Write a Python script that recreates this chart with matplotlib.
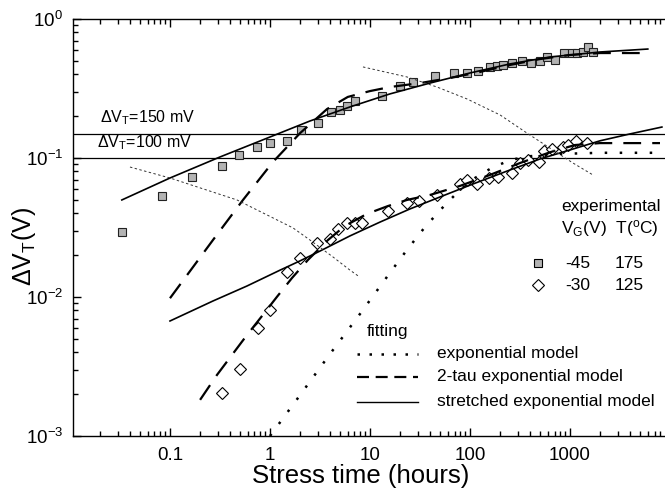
import numpy as np
import matplotlib
matplotlib.use("Agg")
import matplotlib.pyplot as plt
from matplotlib.ticker import FixedLocator, FixedFormatter, LogLocator, NullFormatter
from matplotlib.lines import Line2D

plt.rcParams['font.family'] = ['Liberation Sans', 'DejaVu Sans']
plt.rcParams['mathtext.fontset'] = 'custom'
plt.rcParams['mathtext.rm'] = 'Liberation Sans'
plt.rcParams['mathtext.it'] = 'Liberation Sans:italic'
plt.rcParams['mathtext.bf'] = 'Liberation Sans:bold'
plt.rcParams['mathtext.default'] = 'regular'

# ---------------- measured data ----------------
# VG = -45 V, T = 175 C
t_sq = [0.033, 0.083, 0.166, 0.331, 0.49, 0.74, 1.0, 1.48, 2.04, 3.02, 4.07, 5.0,
        5.9, 7.1, 13.2, 20, 26.9, 44.7, 69, 93, 120, 158, 186, 214, 263, 331,
        407, 501, 589, 708, 871, 1047, 1175, 1349, 1514, 1698]
dv_sq = [0.0294, 0.0533, 0.073, 0.0876, 0.105, 0.12, 0.128, 0.133, 0.159, 0.18, 0.214, 0.222,
         0.237, 0.257, 0.279, 0.33, 0.352, 0.389, 0.409, 0.409, 0.423, 0.452, 0.459, 0.467,
         0.482, 0.499, 0.482, 0.499, 0.533, 0.507, 0.569, 0.569, 0.569, 0.579, 0.629, 0.579]

# VG = -30 V, T = 125 C
t_di = [0.33, 0.50, 0.76, 1.0, 1.48, 2.0, 2.95, 4.0, 4.8, 5.9, 7.1, 8.3, 15.1, 23.4,
        30.9, 46.8, 79, 93, 117, 155, 191, 263, 316, 380, 490, 550, 661, 851, 955,
        1148, 1479]
dv_di = [0.00204, 0.00303, 0.00598, 0.00806, 0.0151, 0.0191, 0.0245, 0.0261, 0.0309,
         0.034, 0.034, 0.034, 0.0416, 0.0475, 0.049, 0.0542, 0.065, 0.0695, 0.065,
         0.0718, 0.073, 0.078, 0.092, 0.0968, 0.0936, 0.112, 0.116, 0.12, 0.124,
         0.133, 0.128]

# ---------------- fitted curves ----------------
# stretched exponential, -45 V
t_se_sq = [0.033, 0.1, 0.316, 1, 2.51, 6.31, 15.8, 39.8, 100, 251, 631, 2000, 6000]
dv_se_sq = [0.0499, 0.0718, 0.1017, 0.1416, 0.1846, 0.233, 0.289, 0.346, 0.409, 0.475,
            0.533, 0.579, 0.608]
# 2-tau exponential, -45 V
t_2t_sq = [0.1, 0.269, 0.537, 1.07, 2.0, 3.72, 6.0, 10, 15.8, 31.6, 63, 126, 251, 501,
           1000, 2000, 5600]
dv_2t_sq = [0.0098, 0.0257, 0.0499, 0.0936, 0.151, 0.225, 0.275, 0.303, 0.324, 0.346,
            0.376, 0.416, 0.467, 0.515, 0.551, 0.569, 0.569]
# stretched exponential, -30 V
t_se_di = [0.1, 0.269, 0.589, 1.26, 2.0, 3.16, 6.3, 12.6, 25.1, 50, 107, 251, 501, 1070,
           2000, 3980, 8300]
dv_se_di = [0.00672, 0.00936, 0.012, 0.0156, 0.0182, 0.0214, 0.0275, 0.0346, 0.043,
            0.0524, 0.065, 0.082, 0.0984, 0.116, 0.133, 0.149, 0.167]
# 2-tau exponential, -30 V
t_2t_di = [0.2, 0.295, 0.417, 0.589, 0.832, 1.17, 1.66, 2.4, 3.8, 5.6, 9.3, 15.1, 23.4,
           39.8, 79, 158, 316, 631, 1122, 2000, 7943]
dv_2t_di = [0.00182, 0.00275, 0.00383, 0.00533, 0.0073, 0.01, 0.0137, 0.0185, 0.0257,
            0.0324, 0.0396, 0.0451, 0.0499, 0.0542, 0.0629, 0.0755, 0.092, 0.110, 0.124,
            0.128, 0.128]
# single exponential, -30 V
t_ex_di = [1, 2, 3.98, 7.94, 15.8, 23.4, 35.5, 56.2, 79.4, 112, 158, 251, 398, 794,
           2000, 7943]
dv_ex_di = [0.001, 0.00197, 0.00389, 0.00755, 0.0149, 0.0218, 0.0319, 0.0459, 0.0589,
            0.0718, 0.0833, 0.0968, 0.103, 0.107, 0.109, 0.109]

# thin guide curves
t_g1 = [0.0398, 0.1, 0.468, 1.70, 2.51, 4.27, 6.31, 7.59]
dv_g1 = [0.0861, 0.0718, 0.0499, 0.0314, 0.0257, 0.0194, 0.0156, 0.0142]
t_g2 = [8.51, 23.4, 46.8, 93.3, 200, 372, 676, 1072, 1698]
dv_g2 = [0.452, 0.383, 0.324, 0.266, 0.204, 0.151, 0.114, 0.092, 0.0755]

# threshold levels
thresholds = [0.15, 0.10]
threshold_labels = [r'ΔV$_\mathregular{T}$=150 mV', r'ΔV$_\mathregular{T}$=100 mV']

x_ticks = [0.1, 1, 10, 100, 1000]
x_tick_labels = ['0.1', '1', '10', '100', '1000']
y_ticks = [1e-3, 1e-2, 1e-1, 1e0]
y_tick_labels = [r'10$^{\mathregular{-3}}$', r'10$^{\mathregular{-2}}$',
                 r'10$^{\mathregular{-1}}$', r'10$^{\mathregular{0}}$']

# ---------------- figure ----------------
W, H = 665, 494
fig = plt.figure(figsize=(W / 100, H / 100), dpi=100)


def fx(px):
    return px / W


def fy(py):
    return 1 - py / H


ax = fig.add_axes([fx(73), fy(436), fx(665) - fx(73), fy(19) - fy(436)])
ax.set_xscale('log')
ax.set_yscale('log')
ax.set_xlim(0.01072, 8913)
ax.set_ylim(1e-3, 1)

SQ_FACE = '#b3b3b3'
dot_style = (0, (1, 5))
dash_style = (0, (8, 5))
guide_style = (0, (2.5, 2.5))

# markers
ax.plot(t_sq, dv_sq, ls='none', marker='s', ms=6.2, mfc=SQ_FACE, mec='#222222',
        mew=0.8, zorder=2)
ax.plot(t_di, dv_di, ls='none', marker='D', ms=5.8, mfc='white', mec='black',
        mew=0.8, zorder=2)

# fits
ax.plot(t_se_sq, dv_se_sq, color='black', lw=1.2, zorder=3)
ax.plot(t_2t_sq, dv_2t_sq, color='black', lw=1.6, ls=dash_style, zorder=3)
ax.plot(t_se_di, dv_se_di, color='black', lw=1.2, zorder=3)
ax.plot(t_2t_di, dv_2t_di, color='black', lw=1.6, ls=dash_style, zorder=3)
ax.plot(t_ex_di, dv_ex_di, color='black', lw=1.8, ls=dot_style, zorder=3)

# guides
ax.plot(t_g1, dv_g1, color='#333333', lw=0.7, ls=guide_style, zorder=3)
ax.plot(t_g2, dv_g2, color='#333333', lw=0.7, ls=guide_style, zorder=3)

for lvl in thresholds:
    ax.axhline(lvl, color='black', lw=0.9, zorder=1)

ax.text(0.020, 0.182, threshold_labels[0], fontsize=11.5, ha='left', va='baseline')
ax.text(0.0186, 0.120, threshold_labels[1], fontsize=11.5, ha='left', va='baseline')

# axes styling
ax.spines['right'].set_visible(False)
for s in ('left', 'bottom', 'top'):
    ax.spines[s].set_linewidth(1.0)

ax.xaxis.set_major_locator(FixedLocator(x_ticks))
ax.xaxis.set_major_formatter(FixedFormatter(x_tick_labels))
ax.xaxis.set_minor_locator(LogLocator(base=10, subs=np.arange(2, 10), numticks=30))
ax.xaxis.set_minor_formatter(NullFormatter())
ax.yaxis.set_major_locator(FixedLocator(y_ticks))
ax.yaxis.set_major_formatter(FixedFormatter(y_tick_labels))
ax.yaxis.set_minor_locator(LogLocator(base=10, subs=np.arange(2, 10), numticks=30))
ax.yaxis.set_minor_formatter(NullFormatter())

ax.tick_params(which='both', direction='in', top=True, right=False, width=1.0,
               labelsize=13.5)
ax.tick_params(which='major', length=6)
ax.tick_params(which='minor', length=3.5)
ax.tick_params(axis='x', pad=8)
ax.tick_params(axis='y', pad=7)

fig.text(fx(361), fy(476), 'Stress time (hours)', fontsize=18.5, ha='center', va='center')
fig.text(fx(24), fy(247), r'ΔV$_\mathregular{T}$(V)', fontsize=18, rotation=90,
         ha='center', va='center')

# key: experimental
fig.text(fx(561), fy(211), 'experimental', fontsize=12.5, ha='left', va='baseline')
fig.text(fx(561), fy(233), r'V$_\mathregular{G}$(V)  T($^\mathregular{o}$C)', fontsize=12.5,
         ha='left', va='baseline')
key_rows = [('s', SQ_FACE, 6.2, '-45', '175', 263), ('D', 'white', 5.8, '-30', '125', 285)]
for mk, face, ms, vg, temp, py in key_rows:
    fig.add_artist(Line2D([fx(538)], [fy(py)], ls='none', marker=mk, ms=ms, mfc=face,
                          mec='black', mew=0.8))
    fig.text(fx(565), fy(py), vg, fontsize=12.5, ha='left', va='center')
    fig.text(fx(615), fy(py), temp, fontsize=12.5, ha='left', va='center')

# key: fitting
fig.text(fx(367), fy(336), 'fitting', fontsize=12.5, ha='left', va='baseline')
fit_rows = [(dict(lw=1.8, ls=(0, (1, 3.8))), 'exponential model', 354),
            (dict(lw=1.6, ls=(0, (5.4, 3))), '2-tau exponential model', 377),
            (dict(lw=1.0, ls='-'), 'stretched exponential model', 402)]
for style, label, py in fit_rows:
    fig.add_artist(Line2D([fx(357), fx(418)], [fy(py), fy(py)], color='black', **style))
    fig.text(fx(437), fy(py + 4), label, fontsize=12.5, ha='left', va='baseline')

fig.savefig('out.png', dpi=100)
